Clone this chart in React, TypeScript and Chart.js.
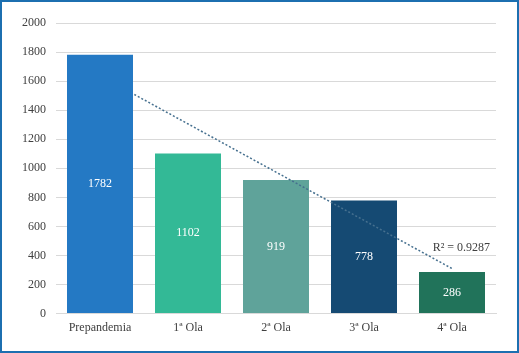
import React, { useEffect, useRef } from "react";
import { Chart, registerables } from "chart.js";

Chart.register(...registerables);

const categories = ["Prepandemia", "1ª Ola", "2ª Ola", "3ª Ola", "4ª Ola"];
const values = [1782, 1102, 919, 778, 286];
const barColors = ["#2479c4", "#33b996", "#5fa39a", "#154a73", "#21735a"];
const trendX = [1.39, 5];
const trendY = [1508, 310];
const r2Label = "R² = 0.9287";
const yTicks = [0, 200, 400, 600, 800, 1000, 1200, 1400, 1600, 1800, 2000];

const FONT = "'Liberation Serif', 'Times New Roman', serif";

export default function App() {
  const ref = useRef<HTMLCanvasElement | null>(null);

  useEffect(() => {
    document.body.style.margin = "0";
    const canvas = ref.current!;
    const labelPlugin = {
      id: "labels",
      afterDatasetsDraw(chart: any) {
        const ctx = chart.ctx;
        const meta = chart.getDatasetMeta(0);
        ctx.save();
        ctx.font = `12px ${FONT}`;
        ctx.fillStyle = "#ffffff";
        ctx.textAlign = "center";
        ctx.textBaseline = "middle";
        meta.data.forEach((bar: any, i: number) => {
          const y = (bar.y + bar.base) / 2;
          ctx.fillText(String(values[i]), bar.x, y);
        });
        const xs = chart.scales.x;
        const ys = chart.scales.y;
        ctx.fillStyle = "#404040";
        ctx.font = `12px ${FONT}`;
        ctx.textAlign = "right";
        ctx.fillText(r2Label, xs.getPixelForValue(4) + 38, ys.getPixelForValue(455));
        ctx.restore();
      },
    };

    const chart = new Chart(canvas, {
      type: "bar",
      data: {
        labels: categories,
        datasets: [
          {
            type: "bar",
            data: values,
            backgroundColor: barColors,
            categoryPercentage: 1,
            barPercentage: 0.75,
            grouped: false,
            xAxisID: "x",
            order: 2,
          } as any,
          {
            type: "line",
            data: trendX.map((x, i) => ({ x, y: trendY[i] })),
            borderColor: "#46708f",
            borderWidth: 1.5,
            borderDash: [2, 2],
            pointRadius: 0,
            fill: false,
            xAxisID: "x2",
            order: 1,
          } as any,
        ],
      },
      options: {
        animation: false,
        responsive: false,
        maintainAspectRatio: false,
        layout: { padding: { top: 21, right: 21, bottom: 9, left: 0 } },
        plugins: {
          legend: { display: false },
          tooltip: { enabled: false },
        },
        scales: {
          x: {
            type: "category",
            grid: { display: false, drawTicks: false },
            border: { color: "#d9d9d9" },
            ticks: { color: "#404040", font: { family: FONT, size: 12 }, padding: 7 },
          },
          x2: {
            type: "linear",
            display: false,
            offset: false,
            min: 0.5,
            max: 5.5,
          },
          y: {
            min: 0,
            max: 2000,
            afterBuildTicks: (s: any) => {
              s.ticks = yTicks.map((v) => ({ value: v }));
            },
            afterFit: (s: any) => {
              s.width = 54;
            },
            grid: { color: "#d9d9d9", drawTicks: false },
            border: { display: false },
            ticks: {
              color: "#404040",
              font: { family: FONT, size: 12 },
              padding: 10,
              callback: (v: any) => String(v),
            },
          },
        } as any,
      },
      plugins: [labelPlugin],
    });
    return () => chart.destroy();
  }, []);

  return (
    <div
      style={{
        position: "fixed",
        left: 0,
        top: 0,
        width: 519,
        height: 353,
        boxSizing: "border-box",
        border: "2px solid #1c6fb0",
        background: "#fff",
      }}
    >
      <canvas
        ref={ref}
        width={515}
        height={349}
        style={{ display: "block", width: 515, height: 349 }}
      />
    </div>
  );
}
